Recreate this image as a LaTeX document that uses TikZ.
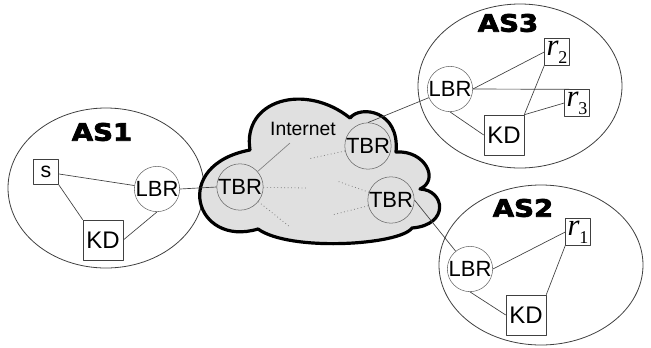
\documentclass[tikz,border=0pt]{standalone}
\usepackage{fontspec}
\usepackage{graphicx}
\setmainfont{Liberation Sans}
\newfontfamily\asfont{DejaVu Sans}[BoldFeatures={FakeBold=3}]
\newfontfamily\rfont{Liberation Serif}
\newcommand{\rname}[1]{{\rfont\fontsize{23}{23}\selectfont\itshape r}\raisebox{-6pt}{\rfont\fontsize{13.5}{13.5}\selectfont #1}}
\definecolor{cloudgray}{HTML}{E0E0E0}
\definecolor{linegray}{HTML}{404040}

\begin{document}
\begin{tikzpicture}[x=0.75pt, y=-0.75pt, line join=round,
	router/.style = {draw=linegray!80, circle, minimum size=33pt, inner sep=0pt, font=\fontsize{16.5}{16.5}\selectfont},
	kd/.style = {draw=linegray, minimum size=30pt, inner sep=0pt, font=\fontsize{18}{18}\selectfont},
	host/.style = {draw=linegray, minimum width=18.75pt, minimum height=20pt, inner sep=0pt},
	aslabel/.style = {font=\asfont\bfseries\fontsize{18}{18}\selectfont},
	link/.style = {draw=linegray, line width=0.5pt},
	inlink/.style = {draw=gray, line width=0.6pt, dotted}]
	\useasboundingbox (0,0) rectangle (651,347);

	\draw[linegray, line width=0.6pt] (106,188) ellipse [x radius=98, y radius=80];
	\draw[linegray, line width=0.6pt] (520,86) ellipse [x radius=102, y radius=82];
	\draw[linegray, line width=0.6pt] (541,265) ellipse [x radius=102, y radius=80];

	\draw[line width=2.4pt, fill=cloudgray] (250,150) .. controls (242,100) and (305,82) .. (350,118)
		.. controls (360,105) and (400,110) .. (396,152)
		.. controls (425,150) and (440,180) .. (420,189)
		.. controls (445,190) and (450,225) .. (412,228)
		.. controls (400,245) and (290,252) .. (258,229)
		.. controls (195,248) and (170,165) .. cycle;

	\node[aslabel] (as1) at (102,132) {\scalebox{1.15}[1]{AS1}};
	\node[aslabel] (as3) at (508,23) {\scalebox{1.15}[1]{AS3}};
	\node[aslabel] (as2) at (523,208) {\scalebox{1.15}[1]{AS2}};
	\node[font=\fontsize{14.5}{14.5}\selectfont] (inet) at (303,129) {Internet};

	\node[host, minimum width=18.75pt, minimum height=18.75pt, font=\fontsize{16}{16}\selectfont] (s) at (46,172) {s};
	\node[router] (lbr1) at (157,189) {LBR};
	\node[kd] (kd1) at (103,240) {KD};

	\node[router] (tbr1) at (240,187) {TBR};
	\node[router] (tbr2) at (368,146) {TBR};
	\node[router] (tbr3) at (391,200) {TBR};

	\node[router] (lbr3) at (450,89) {LBR};
	\node[host] (r2) at (557,52) {\rname{2}};
	\node[host] (r3) at (577,103) {\rname{3}};
	\node[kd] (kd3) at (504,135) {KD};

	\node[router] (lbr2) at (470,269) {LBR};
	\node[host] (r1) at (578,232) {\rname{1}};
	\node[kd] (kd2) at (526,315) {KD};

	\coordinate (i1) at (290,143);
	\coordinate (i2) at (307,188);
	\coordinate (i3) at (290,227);
	\coordinate (i4) at (308,159);
	\coordinate (i5) at (337,181);
	\coordinate (i6) at (332,215);

	\draw[link] (s) -- (lbr1);
	\draw[link] (s.south east) -- (kd1.north west);
	\draw[link] (lbr1.south) -- (kd1.east);
	\draw[link] (lbr1.east) -- (tbr1.west);

	\draw[draw=gray, line width=0.5pt] (tbr1) -- (i1);
	\draw[inlink] (tbr1) -- (i2);
	\draw[inlink] (tbr1) -- (i3);
	\draw[inlink] (tbr2) -- (i4);
	\draw[inlink] (tbr3) -- (i5);
	\draw[inlink] (tbr3) -- (i6);

	\draw[link] (tbr2.north) -- (lbr3);
	\draw[link] (lbr3.east) -- (r2.west);
	\draw[link] (lbr3.east) -- (r3.north east);
	\draw[link] (kd3.north east) -- (r2.south west);
	\draw[link] (kd3.north east) -- (r3.west);
	\draw[link] (lbr3.south) -- (kd3.west);

	\draw[link] (tbr3.east) -- (lbr2);
	\draw[link] (lbr2.east) -- (r1.west);
	\draw[link] (r1.south west) -- (kd2.north east);
	\draw[link] (lbr2.south) -- (kd2.west);
\end{tikzpicture}
\end{document}
